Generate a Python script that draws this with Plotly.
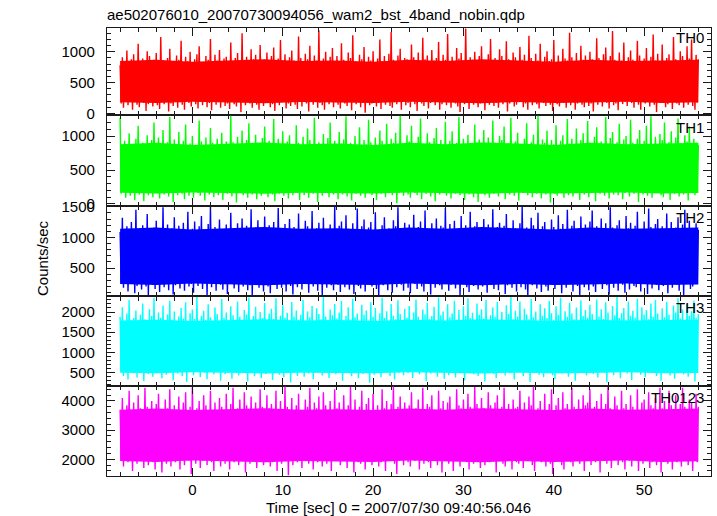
import numpy as np
import plotly.graph_objects as go
from plotly.subplots import make_subplots

# ---- time grid (s) ----
t_start = -8.0
peak_step = 0.25     # local maxima every 0.25 s, local minima half-way between
band_step = 4.0      # spacing of the solid-core envelope samples

# ---- local maxima (counts/sec) ----
th0_peaks = [780, 910, 850, 1020, 700, 880, 960, 820, 1130, 760, 890, 840, 1010, 930, 720, 870,
             980, 810, 1240, 860, 750, 900, 1050, 830, 690, 940, 870, 1180, 790, 920, 850, 1000,
             740, 880, 960, 1090, 820, 710, 930, 870, 1210, 800, 950, 860, 1030, 770, 890, 920,
             840, 1150, 730, 900, 980, 860, 1300, 810, 920, 760, 1040, 880, 950, 830, 1110, 700,
             870, 990, 820, 930, 1070, 750, 890, 1190, 840, 960, 800, 910, 1020, 860, 740, 1250,
             900, 830, 970, 880, 1100, 790, 940, 860, 1350, 810, 890, 1000, 760, 920, 1060, 850,
             930, 780, 1140, 870, 820, 990, 900, 1270, 840, 760, 950, 880, 1080, 810, 920, 860,
             1010, 740, 890, 1200, 850, 930, 800, 970, 1320, 870, 790, 940, 1050, 830, 900, 880,
             760, 1120, 910, 850, 990, 820, 1230, 880, 940, 780, 1030, 860, 900, 1160, 810, 950,
             870, 1290, 830, 920, 760, 1060, 890, 980, 850, 1380, 800, 910, 870, 1000, 740, 930,
             1090, 860, 820, 960, 1210, 780, 900, 850, 1040, 930, 790, 1170, 880, 840, 990, 910,
             760, 1080, 870, 950, 830, 1260, 900, 810, 970, 860, 1130, 790, 920, 1010, 850, 880,
             1190, 820, 940, 780, 1050, 890, 860, 1310, 910, 830, 980, 750, 1100, 870, 940, 820,
             1000, 880, 790, 1220, 900, 850, 960, 1070, 810, 930, 1340, 870, 770, 990, 860, 1150,
             830, 910, 1020, 870, 760, 1180, 940, 850, 890, 1060, 800, 920, 1280, 860, 970, 830,
             1120, 790, 900, 960, 850, 1240, 880, 820, 1010, 930, 770, 1090, 890, 1200, 840, 950,
             880]
th1_peaks = [1270, 850, 930, 790, 1040, 880, 720, 960, 1150, 830, 900, 870, 1010, 760, 940, 1200,
             820, 980, 860, 1090, 750, 910, 1280, 840, 950, 800, 1060, 880, 930, 1170, 790, 890,
             1000, 860, 770, 1230, 920, 850, 980, 810, 1120, 900, 840, 960, 730, 1050, 880, 920,
             840, 1300, 910, 780, 990, 860, 1080, 820, 940, 1190, 870, 760, 1020, 900, 850, 970,
             1140, 800, 930, 880, 1250, 830, 960, 740, 1070, 890, 920, 1010, 850, 780, 1160, 900,
             870, 990, 820, 1110, 940, 760, 1270, 880, 910, 850, 1030, 800, 970, 1200, 860, 930,
             790, 1060, 890, 950, 1290, 840, 900, 770, 1000, 870, 1130, 820, 940, 880, 1240, 910,
             850, 980, 760, 1080, 930, 870, 1180, 810, 960, 900, 1050, 840, 1300, 890, 780, 1010,
             920, 1150, 860, 830, 990, 1260, 880, 750, 1040, 910, 870, 970, 1120, 820, 940, 860,
             1210, 800, 930, 1070, 850, 900, 1280, 870, 960, 790, 1020, 880, 840, 1170, 910, 950,
             830, 1090, 870, 980, 760, 1230, 900, 850, 1000, 940, 1140, 810, 890, 1270, 860, 920,
             1050, 880, 790, 960, 1190, 840, 910, 1020, 870, 1300, 830, 950, 900, 1080, 770, 940,
             880, 1160, 850, 930, 1010, 820, 1250, 890, 960, 800, 1110, 870, 940, 1040, 850, 1220,
             900, 780, 990, 1130, 860, 920, 840, 1280, 890, 970, 1060, 830, 910, 1180, 870, 950,
             1000, 850, 1240, 900, 810, 960, 1090, 880, 930, 1150, 840, 1290, 870, 990, 820, 1030,
             940, 1200, 860, 910, 1070, 790, 980, 1260, 880, 850, 1010, 920, 1140, 830, 960, 900,
             870]
th2_peaks = [1090, 1320, 1010, 1180, 940, 1250, 1060, 1450, 980, 1130, 1200, 1030, 1380, 1100, 960, 1160,
             1270, 1040, 1120, 1490, 990, 1210, 1080, 1150, 1330, 920, 1190, 1060, 1240, 1110, 1420, 1000,
             1140, 1260, 970, 1180, 1350, 1050, 1100, 1220, 1500, 1020, 1170, 1080, 1290, 950, 1130, 1210,
             1060, 1400, 1120, 990, 1230, 1150, 1310, 1040, 1190, 1090, 1460, 1010, 1160, 1280, 1070, 1130,
             1340, 980, 1200, 1110, 1250, 1030, 1480, 1140, 1070, 1220, 960, 1300, 1100, 1170, 1020, 1390,
             1120, 1050, 1270, 1180, 1000, 1430, 1090, 1150, 1240, 1060, 1320, 1130, 990, 1210, 1110, 1500,
             1030, 1190, 1260, 1080, 1360, 1140, 970, 1230, 1100, 1470, 1050, 1180, 1290, 1010, 1160, 1250,
             1090, 1410, 1120, 1040, 1200, 1330, 1070, 1150, 1020, 1280, 1180, 1490, 1060, 1130, 1240, 980,
             1210, 1110, 1370, 1050, 1170, 1260, 1000, 1440, 1140, 1080, 1230, 1120, 1310, 1030, 1190, 1160,
             1480, 1070, 1220, 1100, 1270, 990, 1150, 1350, 1060, 1200, 1130, 1420, 1040, 1180, 1250, 1090,
             1160, 1300, 1020, 1210, 1120, 1460, 1080, 1170, 1240, 960, 1190, 1380, 1100, 1050, 1280, 1140,
             1010, 1230, 1500, 1090, 1160, 1060, 1320, 1200, 1130, 1400, 1040, 1180, 1250, 1110, 970, 1290,
             1170, 1080, 1360, 1140, 1220, 1030, 1450, 1100, 1190, 1270, 1060, 1150, 1340, 1000, 1210, 1120,
             1260, 1440, 1050, 1180, 1130, 1310, 1090, 1230, 990, 1490, 1160, 1070, 1200, 1280, 1110, 1040,
             1350, 1150, 1240, 1020, 1190, 1420, 1080, 1130, 1260, 1050, 1470, 1170, 1100, 1220, 1300, 1060,
             1180, 1000, 1390, 1120, 1250, 1090, 1160, 1330, 1040, 1210, 1450, 1110, 1270, 1140, 1060, 1230,
             1120]
th3_peaks = [1880, 2120, 1710, 1960, 2300, 1790, 1850, 2040, 1680, 1930, 2210, 1820, 1750, 2070, 1900, 2350,
             1770, 1990, 1860, 2160, 1720, 1940, 2280, 1810, 2010, 1650, 1890, 2100, 1840, 2240, 1760, 1970,
             2060, 1830, 2370, 1740, 1910, 2030, 1800, 2190, 1870, 1700, 2110, 1950, 1780, 2320, 1860, 1990,
             1730, 2140, 1920, 1810, 2260, 1880, 1690, 2050, 1940, 2360, 1790, 1900, 2130, 1760, 2000, 1850,
             2220, 1770, 1960, 2080, 1830, 2340, 1720, 1910, 2170, 1860, 1980, 1740, 2250, 1890, 2040, 1800,
             1930, 2300, 1780, 2010, 1870, 2150, 1710, 2090, 1950, 1820, 2370, 1890, 1760, 2060, 1920, 2200,
             1840, 1990, 2270, 1750, 1900, 2120, 1810, 2330, 1870, 1960, 1700, 2180, 1930, 2040, 1790, 2240,
             1880, 2100, 1730, 1970, 2350, 1850, 2020, 1770, 2200, 1910, 1820, 2290, 1950, 1740, 2080, 1860,
             2150, 1800, 1990, 2310, 1880, 1720, 2060, 1940, 2230, 1830, 1900, 2130, 1780, 2360, 1920, 2010,
             1760, 2190, 1870, 1960, 2280, 1810, 2050, 1730, 2140, 1900, 2340, 1850, 1980, 1790, 2210, 1930,
             2070, 1840, 2300, 1750, 1920, 2110, 1880, 2250, 1800, 2000, 1710, 2170, 1950, 2370, 1830, 2030,
             1890, 2260, 1780, 2080, 1940, 1820, 2320, 1870, 2010, 1760, 2190, 1910, 2090, 1850, 2270, 1970,
             1800, 2140, 1930, 2350, 1740, 2020, 1880, 2230, 1960, 1820, 2110, 1720, 2290, 1900, 2050, 1860,
             2180, 1950, 1770, 2310, 1890, 2070, 1830, 2240, 1990, 1710, 2150, 1920, 2370, 1850, 1970, 2100,
             1790, 2260, 1910, 2030, 1860, 2330, 1750, 2120, 1940, 2050, 1820, 2210, 1880, 2300, 1960, 1770,
             2090, 1870, 2250, 1930, 1800, 2160, 1990, 2340, 1840, 2060, 1740, 2200, 1910, 2020, 2280, 1860,
             1950]
th0123_peaks = [3700, 4100, 3450, 3850, 4350, 3600, 3950, 3350, 4200, 3750, 3550, 4450, 3800, 3650, 4000, 3500,
                3900, 4250, 3600, 3400, 4050, 3750, 4400, 3550, 3850, 3700, 4150, 3300, 3950, 4300, 3650, 3800,
                4500, 3500, 3750, 4000, 3600, 4200, 3850, 3450, 4350, 3700, 3950, 3550, 4100, 3800, 3400, 4250,
                3650, 3900, 4450, 3550, 3750, 4050, 3500, 4300, 3850, 3600, 4150, 3700, 3950, 3350, 4400, 3800,
                3600, 4200, 3750, 3900, 3450, 4350, 3650, 4000, 3550, 4500, 3800, 3700, 4100, 3500, 3850, 4250,
                3700, 3400, 4050, 3800, 4450, 3600, 3950, 3750, 4150, 3500, 4300, 3850, 3650, 4000, 3550, 4400,
                3750, 3950, 3450, 4200, 3700, 3850, 4480, 3600, 4050, 3500, 3800, 4350, 3650, 3900, 4100, 3550,
                4250, 3700, 3850, 3400, 4400, 3750, 4000, 3600, 3900, 4500, 3550, 3800, 4150, 3650, 3950, 3450,
                3850, 4300, 3600, 3750, 4050, 3500, 4450, 3700, 3900, 3800, 4200, 3550, 3650, 4350, 3750, 4000,
                3500, 3950, 4150, 3700, 3600, 4400, 3850, 3750, 4050, 3450, 4250, 3800, 3650, 4480, 3900, 3550,
                4100, 3750, 3600, 4300, 3850, 3500, 3950, 4200, 3700, 3800, 4450, 3650, 3900, 3550, 4050, 3750,
                3800, 4350, 3650, 3950, 3500, 4150, 3850, 4500, 3600, 3750, 4000, 3700, 4250, 3550, 3900, 4400,
                3650, 3850, 4100, 3450, 4300, 3750, 3900, 3600, 4450, 3800, 3700, 4050, 3550, 4200, 3850, 3950,
                4400, 3600, 3800, 4000, 3700, 4250, 3500, 3900, 4480, 3750, 3650, 4150, 3850, 3600, 4350, 3750,
                3900, 3550, 4200, 3800, 3700, 4400, 3600, 3950, 4050, 3500, 4300, 3850, 3750, 4100, 3650, 4450,
                3750, 4000, 3600, 4350, 3850, 3700, 4200, 3550, 3900, 4450, 3800, 3650, 4050, 3950, 3500, 4250,
                3800]

# ---- local minima (counts/sec), half-way between the maxima ----
th0_troughs = [160, 90, 210, 130, 250, 60, 180, 140, 100, 230, 170, 40, 150, 200, 110, 260,
               130, 70, 190, 150, 220, 30, 160, 120, 240, 90, 180, 140, 60, 200, 170, 110,
               230, 150, 80, 190, 130, 270, 100, 170, 50, 210, 140, 180, 90, 250, 120, 160,
               70, 200, 150, 110, 240, 20, 180, 130, 210, 160, 90, 300, 140, 60, 190, 120,
               170, 230, 100, 150, 40, 210, 130, 180, 260, 80, 160, 120, 200, 140, 70, 190,
               110, 250, 160, 30, 190, 140, 220, 90, 170, 130, 60, 240, 150, 200, 100, 180,
               140, 80, 210, 160, 120, 280, 50, 190, 150, 230, 100, 170, 10, 200, 130, 160,
               240, 110, 170, 70, 190, 140, 220, 120, 90, 180, 150, 260, 60, 200, 130, 170,
               100, 210, 150, 40, 230, 160, 120, 190, 80, 170, 250, 130, 200, 60, 150, 220,
               130, 180, 90, 240, 160, 110, 20, 200, 150, 170, 70, 230, 140, 190, 100, 160,
               210, 50, 180, 140, 260, 120, 170, 90, 200, 150, 230, 30, 160, 190, 110, 140,
               180, 240, 100, 160, 60, 210, 130, 190, 150, 80, 220, 170, 120, 270, 140, 40,
               200, 150, 110, 230, 170, 90, 190, 130, 250, 60, 160, 210, 140, 100, 180, 120,
               160, 30, 220, 140, 190, 110, 240, 170, 80, 200, 130, 160, 50, 230, 150, 190,
               120, 210, 170, 90, 250, 140, 60, 180, 160, 220, 110, 190, 140, 20, 200, 170,
               230, 100, 150, 190, 70, 210, 160, 130, 240, 90, 180, 140, 200, 120, 60, 170]
th1_troughs = [150, 230, 90, 180, 120, 260, 60, 200, 140, 170, 40, 210, 130, 190, 100, 240,
               160, 80, 220, 140, 190, 110, 250, 30, 170, 130, 200, 150, 70, 230, 120, 180,
               90, 210, 160, 120, 270, 50, 190, 140, 220, 100, 170, 130, 240, 60, 200, 150,
               180, 110, 230, 20, 160, 200, 130, 250, 90, 170, 140, 210, 70, 190, 120, 160,
               240, 100, 170, 140, 40, 220, 150, 190, 120, 260, 80, 180, 130, 210, 160, 60,
               200, 130, 250, 90, 170, 150, 220, 30, 190, 120, 160, 240, 100, 180, 140, 210,
               70, 190, 140, 230, 110, 170, 50, 200, 150, 260, 120, 180, 90, 220, 160, 130,
               240, 60, 180, 150, 210, 100, 170, 270, 130, 190, 10, 160, 230, 120, 200, 140,
               90, 220, 160, 130, 250, 70, 190, 150, 210, 110, 180, 40, 230, 140, 170, 200,
               120, 260, 80, 190, 150, 220, 130, 170, 60, 240, 140, 200, 100, 180, 30, 210,
               160, 130, 230, 90, 190, 150, 250, 110, 170, 200, 70, 220, 140, 180, 120, 240,
               50, 190, 160, 210, 130, 270, 100, 170, 150, 230, 80, 200, 140, 180, 20, 220,
               150, 120, 240, 170, 90, 200, 130, 260, 110, 190, 160, 60, 230, 140, 180, 100,
               210, 170, 40, 220, 150, 190, 120, 250, 80, 180, 140, 200, 130, 230, 70, 160,
               190, 110, 240, 150, 200, 30, 170, 140, 220, 120, 260, 90, 180, 160, 210, 130,
               100, 230, 170, 60, 200, 150, 240, 110, 180, 140, 220, 50, 190, 160, 130, 210]
th2_troughs = [260, 180, 330, 120, 240, 300, 90, 210, 370, 150, 270, 200, 60, 310, 230, 160,
               340, 110, 250, 190, 400, 140, 280, 70, 220, 320, 170, 260, 130, 360, 200, 240,
               100, 290, 210, 350, 160, 250, 50, 310, 190, 270, 130, 380, 230, 150, 300, 80,
               240, 330, 170, 260, 110, 390, 200, 280, 140, 220, 60, 310, 250, 180, 350, 120,
               290, 200, 90, 340, 230, 160, 410, 180, 270, 120, 300, 210, 70, 260, 190, 320,
               150, 370, 240, 100, 280, 200, 330, 130, 250, 60, 300, 180, 360, 220, 140, 270,
               230, 110, 310, 190, 400, 150, 260, 80, 340, 210, 170, 290, 120, 380, 240, 200,
               320, 160, 50, 270, 220, 350, 140, 250, 100, 310, 190, 420, 230, 130, 280, 180,
               90, 300, 240, 160, 370, 200, 120, 330, 260, 70, 290, 180, 350, 220, 150, 260,
               310, 130, 230, 380, 170, 270, 60, 240, 320, 190, 110, 300, 210, 360, 150, 250,
               200, 340, 100, 280, 230, 160, 390, 140, 260, 310, 80, 220, 330, 180, 250, 120,
               270, 190, 360, 150, 50, 290, 220, 340, 170, 240, 110, 400, 200, 130, 310, 260,
               160, 320, 230, 90, 280, 180, 370, 250, 120, 300, 210, 60, 330, 190, 270, 140,
               350, 200, 110, 290, 240, 160, 380, 220, 70, 310, 180, 260, 130, 340, 230, 100,
               280, 150, 360, 210, 190, 410, 120, 250, 300, 80, 270, 170, 330, 230, 140, 290,
               210, 320, 90, 260, 180, 350, 230, 130, 290, 60, 240, 370, 160, 200, 310, 250]
th3_troughs = [560, 420, 680, 330, 610, 490, 740, 380, 590, 520, 290, 650, 470, 560, 400, 700,
               510, 620, 360, 580, 450, 760, 540, 310, 630, 480, 690, 410, 570, 270, 600, 530,
               440, 710, 560, 390, 640, 500, 340, 670, 580, 460, 730, 520, 300, 610, 470, 650,
               580, 350, 690, 520, 430, 760, 490, 600, 280, 640, 550, 410, 700, 510, 370, 620,
               470, 660, 540, 320, 590, 720, 450, 570, 390, 680, 500, 260, 630, 560, 420, 750,
               530, 400, 610, 480, 700, 340, 590, 520, 650, 430, 560, 780, 370, 620, 500, 460,
               690, 550, 300, 640, 490, 580, 410, 720, 530, 360, 600, 470, 670, 540, 250, 610,
               450, 700, 570, 390, 630, 510, 740, 420, 580, 330, 660, 500, 550, 440, 710, 490,
               600, 370, 650, 530, 460, 770, 520, 290, 620, 480, 690, 560, 400, 640, 510, 350,
               680, 440, 590, 720, 380, 560, 500, 640, 310, 610, 530, 700, 460, 570, 420, 660,
               520, 280, 630, 550, 710, 470, 360, 600, 540, 740, 430, 580, 490, 650, 330, 620,
               570, 690, 410, 530, 600, 270, 660, 500, 730, 450, 560, 390, 620, 510, 680, 440,
               340, 610, 560, 480, 700, 520, 400, 640, 580, 300, 670, 490, 550, 750, 430, 590,
               630, 470, 720, 380, 560, 610, 500, 260, 650, 540, 440, 690, 520, 360, 600, 570,
               480, 660, 320, 590, 530, 710, 450, 620, 390, 680, 550, 500, 740, 420, 580, 300,
               640, 510, 690, 430, 570, 350, 620, 540, 760, 460, 590, 400, 660, 520, 280, 610]
th0123_troughs = [2000, 1750, 2250, 1900, 2100, 1600, 2050, 1850, 2300, 1950, 1700, 2150, 1800, 2400, 1900, 1650,
                  2200, 1950, 1550, 2100, 1850, 2250, 1750, 2000, 1900, 2350, 1650, 2050, 1800, 2150, 1950, 1500,
                  2050, 1850, 2300, 1700, 1950, 2150, 1800, 2400, 1900, 1600, 2100, 2000, 1750, 2250, 1850, 2050,
                  1650, 2200, 1900, 2050, 1800, 2350, 1950, 1550, 2100, 1850, 2000, 2250, 1700, 1950, 2150, 1800,
                  2300, 1900, 1750, 2100, 2000, 1600, 2200, 1850, 2050, 1950, 1450, 2150, 1800, 2350, 1900, 2000,
                  1700, 2250, 1950, 1850, 2100, 1650, 2300, 1900, 2000, 1750, 2200, 1850, 2400, 1600, 2050, 1950,
                  2150, 1800, 2000, 2350, 1700, 1950, 2100, 1550, 2250, 1900, 1850, 2050, 1650, 2200, 1950, 1800,
                  2000, 2300, 1750, 1900, 2150, 1600, 2050, 1950, 2250, 1850, 1500, 2100, 2000, 1800, 2350, 1900,
                  1750, 2100, 1950, 2200, 1650, 2000, 1850, 2400, 1900, 1700, 2150, 2050, 1800, 2250, 1550, 1950,
                  2250, 1850, 2050, 1600, 2150, 1950, 1750, 2300, 2000, 1900, 1650, 2200, 1850, 2100, 1950, 1700,
                  2050, 1800, 2350, 1900, 1950, 2150, 1550, 2000, 2250, 1850, 1750, 2100, 1950, 1650, 2300, 1900,
                  1850, 2200, 1700, 2050, 1950, 2400, 1800, 1600, 2100, 2000, 1900, 2250, 1750, 2150, 1850, 1500,
                  2100, 1950, 2300, 1800, 1650, 2050, 2200, 1900, 1750, 2350, 2000, 1850, 2150, 1600, 1950, 2250,
                  1800, 2050, 1900, 2200, 1550, 2100, 1950, 1850, 2300, 1700, 2000, 2150, 1800, 2400, 1900, 1650,
                  2250, 1950, 1750, 2100, 2000, 1600, 2200, 1850, 2050, 2350, 1700, 1900, 2150, 1800, 2000, 1550,
                  1950, 2300, 1850, 2050, 1650, 2200, 1900, 2100, 1750, 2000, 2250, 1800, 1950, 1600, 2150, 1900]

# ---- solid core of each band (every 4 s) ----
th0_core_hi = [850, 870, 840, 860, 880, 850, 860, 840, 870, 850, 880, 860, 840, 870, 850, 860, 870]
th0_core_lo = [180, 170, 190, 175, 165, 185, 175, 170, 190, 180, 165, 185, 170, 175, 190, 170, 180]
th1_core_hi = [880, 900, 870, 890, 905, 880, 890, 870, 900, 880, 905, 890, 870, 900, 880, 890, 900]
th1_core_lo = [165, 155, 170, 160, 150, 165, 160, 155, 170, 160, 150, 165, 155, 160, 170, 155, 160]
th2_core_hi = [1140, 1160, 1130, 1150, 1170, 1140, 1150, 1130, 1160, 1140, 1170, 1150, 1130, 1160, 1140, 1150, 1160]
th2_core_lo = [240, 225, 250, 235, 220, 240, 235, 225, 250, 235, 220, 240, 225, 235, 250, 225, 235]
th3_core_hi = [1790, 1810, 1780, 1800, 1820, 1790, 1800, 1780, 1810, 1790, 1820, 1800, 1780, 1810, 1790, 1800, 1810]
th3_core_lo = [500, 485, 510, 495, 480, 500, 495, 485, 510, 495, 480, 500, 485, 495, 510, 485, 495]
th0123_core_hi = [3700, 3740, 3690, 3720, 3750, 3700, 3720, 3690, 3740, 3700, 3750, 3720, 3690, 3740, 3700, 3720, 3740]
th0123_core_lo = [1940, 1910, 1960, 1930, 1900, 1940, 1930, 1910, 1960, 1930, 1900, 1940, 1910, 1930, 1960, 1910, 1930]

names = ["TH0", "TH1", "TH2", "TH3", "TH0123"]
peaks = [th0_peaks, th1_peaks, th2_peaks, th3_peaks, th0123_peaks]
troughs = [th0_troughs, th1_troughs, th2_troughs, th3_troughs, th0123_troughs]
core_hi = [th0_core_hi, th1_core_hi, th2_core_hi, th3_core_hi, th0123_core_hi]
core_lo = [th0_core_lo, th1_core_lo, th2_core_lo, th3_core_lo, th0123_core_lo]
colors = ["#ff0000", "#00ff00", "#0000ff", "#00ffff", "#ff00ff"]
y_ranges = [[-27, 1387], [-30, 1310], [38, 1512], [171, 2384], [1427, 4514]]
y_dticks = [500, 500, 500, 500, 1000]
y_minor = [100, 100, 100, 100, 200]

x_range = [-9.45, 57.4]
x_title = "Time [sec] 0 = 2007/07/30 09:40:56.046"
title = "ae502076010_20070730094056_wam2_bst_4band_nobin.qdp"
y_title = "Counts/sec"

# panel boundaries (paper fractions, top to bottom)
domains = [[0.8058, 1.0], [0.6027, 0.8058], [0.4007, 0.6027], [0.2009, 0.4007], [0.0, 0.2009]]
label_y = [0.9788, 0.7779, 0.577, 0.3772, 0.1752]

FONT = "Liberation Sans, Arial, Helvetica, sans-serif"
AX = "#1a1a1a"


def light_curve(pk, tr):
    """Interleave maxima and minima into one time-ordered series."""
    vals = []
    for k in range(len(tr)):
        vals.append(pk[k])
        vals.append(tr[k])
    if len(pk) > len(tr):
        vals.append(pk[len(tr)])
    times = t_start + 0.5 * peak_step * np.arange(len(vals))
    return times, vals


fig = make_subplots(rows=5, cols=1, shared_xaxes=True, vertical_spacing=0)

for i in range(5):
    r = i + 1
    tb = t_start + band_step * np.arange(len(core_hi[i]))
    fig.add_trace(go.Scatter(x=tb, y=core_lo[i], mode="lines", line=dict(width=0),
                             showlegend=False, hoverinfo="skip"), row=r, col=1)
    fig.add_trace(go.Scatter(x=tb, y=core_hi[i], mode="lines", line=dict(width=0),
                             fill="tonexty", fillcolor=colors[i],
                             showlegend=False, hoverinfo="skip"), row=r, col=1)
    ts, vs = light_curve(peaks[i], troughs[i])
    fig.add_trace(go.Scatter(x=ts, y=vs, mode="lines",
                             line=dict(color=colors[i], width=1.4),
                             showlegend=False, hoverinfo="skip"), row=r, col=1)

for i in range(5):
    r = i + 1
    fig.update_xaxes(range=x_range, showline=True, linecolor=AX, linewidth=1.2,
                     mirror="ticks", ticks="inside", ticklen=8, tickwidth=1.2,
                     tickcolor=AX, dtick=10, tick0=0,
                     minor=dict(dtick=2, ticklen=4, ticks="inside", tickcolor=AX, tickwidth=1),
                     showgrid=False, zeroline=False,
                     showticklabels=(r == 5), ticklabelstandoff=0,
                     tickfont=dict(family=FONT, size=15, color="black"),
                     row=r, col=1)
    fig.update_yaxes(range=y_ranges[i], domain=domains[i], showline=True, linecolor=AX,
                     linewidth=1.2, mirror="ticks", ticks="inside", ticklen=8,
                     tickwidth=1.2, tickcolor=AX, dtick=y_dticks[i], tick0=0,
                     minor=dict(dtick=y_minor[i], ticklen=4, ticks="inside",
                                tickcolor=AX, tickwidth=1),
                     showgrid=False, zeroline=False, ticklabelstandoff=8,
                     tickfont=dict(family=FONT, size=15, color="black"),
                     row=r, col=1)
    fig.add_annotation(text=names[i], xref="paper", yref="paper", x=0.992, y=label_y[i],
                       xanchor="right", yanchor="middle", showarrow=False,
                       font=dict(family=FONT, size=15, color="black"))

fig.add_annotation(text=title, xref="paper", yref="paper", x=-0.004, y=1.031,
                   xanchor="left", yanchor="middle", showarrow=False,
                   font=dict(family=FONT, size=15, color="black"))
fig.add_annotation(text=y_title, xref="paper", yref="paper", x=-0.1076, y=0.4866,
                   xanchor="center", yanchor="middle", textangle=-90, showarrow=False,
                   font=dict(family=FONT, size=15, color="black"))
fig.add_annotation(text=x_title, xref="paper", yref="paper", x=0.482, y=-0.0692,
                   xanchor="center", yanchor="middle", showarrow=False,
                   font=dict(family=FONT, size=15, color="black"))

fig.update_layout(width=717, height=516, margin=dict(l=107, r=6, t=28, b=40),
                  paper_bgcolor="white", plot_bgcolor="white")

fig.write_html("out.html", config={"displayModeBar": False},
               post_script="document.body.style.margin='0px';")
